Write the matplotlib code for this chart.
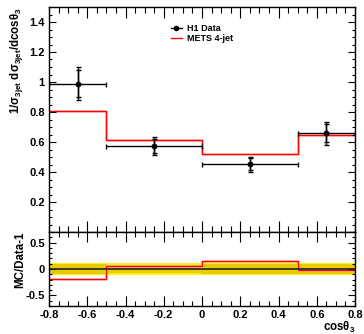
import numpy as np
import matplotlib
matplotlib.use("Agg")
import matplotlib.pyplot as plt
from matplotlib.lines import Line2D
from matplotlib.ticker import MultipleLocator

plt.rcParams['font.family'] = ['Liberation Sans', 'DejaVu Sans']
plt.rcParams['font.weight'] = 'bold'
plt.rcParams['mathtext.fontset'] = 'custom'
plt.rcParams['mathtext.rm'] = 'Liberation Sans:bold'
plt.rcParams['mathtext.bf'] = 'Liberation Sans:bold'
plt.rcParams['mathtext.it'] = 'Liberation Sans:bold'
plt.rcParams['mathtext.default'] = 'rm'

# ---- data ----
bin_edges = [-0.8, -0.5, 0.0, 0.5, 0.8]
data_x = [-0.65, -0.25, 0.25, 0.65]
data_y = [0.987, 0.575, 0.453, 0.658]
data_stat = [0.09, 0.045, 0.04, 0.06]
data_tot = [0.11, 0.06, 0.05, 0.075]
mets = [0.807, 0.613, 0.520, 0.647]
xticks = [-0.8, -0.6, -0.4, -0.2, 0, 0.2, 0.4, 0.6, 0.8]
xtick_labels = ['-0.8', '-0.6', '-0.4', '-0.2', '0', '0.2', '0.4', '0.6', '0.8']
yticks_top = [0.2, 0.4, 0.6, 0.8, 1.0, 1.2, 1.4]
ytick_top_labels = ['0.2', '0.4', '0.6', '0.8', '1', '1.2', '1.4']
yticks_bot = [-0.5, 0, 0.5]
ytick_bot_labels = ['-0.5', '0', '0.5']

edges = np.array(bin_edges)
dy = np.array(data_y)
mc = np.array(mets)
rel_stat = np.array(data_stat) / dy
rel_tot = np.array(data_tot) / dy
ratio = mc / dy - 1
half_w = np.diff(edges) / 2

W, H = 364, 334
fig = plt.figure(figsize=(W / 100, H / 100), dpi=100)

def frac(l, t, r, b):
    return [l / W, 1 - b / H, (r - l) / W, (b - t) / H]

ax = fig.add_axes(frac(49, 7, 355, 232))
axr = fig.add_axes(frac(49, 232, 355, 306))

fs = 8
for a in (ax, axr):
    a.set_xlim(-0.8, 0.8)
    a.tick_params(which='both', direction='in', top=True, right=True,
                  labelsize=fs, width=0.8)
    a.xaxis.set_major_locator(MultipleLocator(0.2))
    a.xaxis.set_minor_locator(MultipleLocator(0.05))
    for s in a.spines.values():
        s.set_linewidth(1.0)

ax.tick_params(axis='x', which='major', length=8)
ax.tick_params(axis='x', which='minor', length=4)
ax.tick_params(axis='y', which='major', length=5, pad=3)
ax.tick_params(axis='y', which='minor', length=2.5)
axr.tick_params(axis='x', which='major', length=7)
axr.tick_params(axis='x', which='minor', length=3.5)
axr.tick_params(axis='y', which='major', length=5, pad=3)
axr.tick_params(axis='y', which='minor', length=2.5)

# top panel
ax.set_ylim(0, 1.5)
ax.set_yticks(yticks_top)
ax.set_yticklabels(ytick_top_labels, fontweight='bold')
ax.yaxis.set_minor_locator(MultipleLocator(0.05))
ax.set_xticks(xticks)
ax.set_xticklabels([])

ax.stairs(mc, edges, color='#ffb0b0', lw=1.8, baseline=None)
ax.stairs(mc, edges, color='#ff0000', lw=0.9, baseline=None)
ax.errorbar(data_x, dy, yerr=data_tot, fmt='none', ecolor='black',
            elinewidth=1.0, capsize=1.8, capthick=1.0)
ax.errorbar(data_x, dy, yerr=data_stat, xerr=half_w,
            fmt='o', color='black', ms=3.2, elinewidth=1.0, capsize=1.8, capthick=1.0)

h_data = Line2D([], [], color='black', marker='o', ms=3, lw=1.0)
h_mc = Line2D([], [], color='#ff0000', lw=1.0)
leg = ax.legend([h_data, h_mc], ['H1 Data', 'METS 4-jet'], loc='upper left',
                bbox_to_anchor=(0.38, 0.95), frameon=False, fontsize=6.5,
                handlelength=1.2, handletextpad=0.6, labelspacing=0.12,
                borderaxespad=0.2)
for t in leg.get_texts():
    t.set_fontweight('bold')

ax.set_ylabel(r'1/σ$_{\rm 3jet}$ dσ$_{\rm 3jet}$/dcosθ$_{\rm 3}$', fontsize=8.3,
              fontweight='bold', loc='top')
ax.yaxis.set_label_coords(-0.078, 1.0)

# ratio panel
axr.set_ylim(-0.7, 0.7)
axr.set_yticks(yticks_bot)
axr.set_yticklabels(ytick_bot_labels, fontweight='bold')
axr.yaxis.set_minor_locator(MultipleLocator(0.1))
axr.set_xticks(xticks)
axr.set_xticklabels(xtick_labels, fontweight='bold')
axr.tick_params(axis='x', pad=3)

axr.stairs(rel_tot, edges, baseline=-rel_tot, fill=True, color='#fff200', lw=0)
axr.stairs(rel_stat, edges, baseline=-rel_stat, fill=True, color='#e8cc00', lw=0)
axr.axhline(0, color='#222222', lw=1.2)
axr.stairs(ratio, edges, color='#ffb0b0', lw=1.8, baseline=None)
axr.stairs(ratio, edges, color='#ff0000', lw=0.9, baseline=None)

axr.set_ylabel('MC/Data-1', fontsize=8.3, fontweight='bold', loc='top')
axr.yaxis.set_label_coords(-0.075, 1.0)
axr.set_xlabel(r'cosθ$_{\rm 3}$', fontsize=8.3, fontweight='bold', loc='right', labelpad=0)

fig.savefig('out.png', dpi=100)
